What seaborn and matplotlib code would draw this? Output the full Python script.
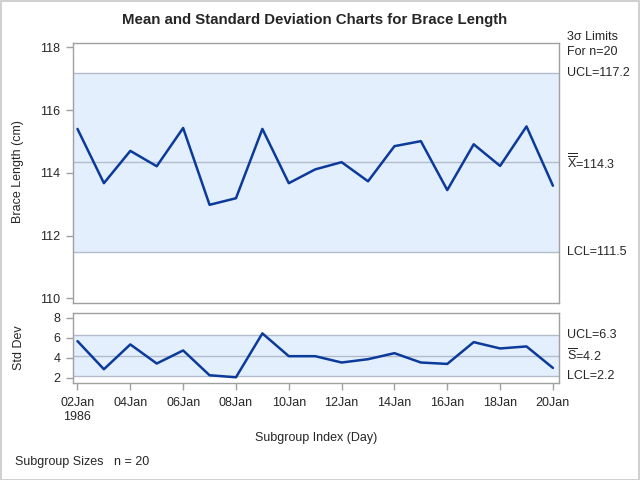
import matplotlib
matplotlib.use("Agg")
import matplotlib.pyplot as plt
import seaborn as sns
import pandas as pd
from matplotlib.patches import Rectangle

# ---- data ----
days = list(range(2, 21))
tick_days = [2, 4, 6, 8, 10, 12, 14, 16, 18, 20]
tick_labels = ["02Jan\n1986", "04Jan", "06Jan", "08Jan", "10Jan", "12Jan",
               "14Jan", "16Jan", "18Jan", "20Jan"]
means = [115.40, 113.67, 114.70, 114.21, 115.43, 112.98, 113.19, 115.40, 113.67,
         114.11, 114.34, 113.73, 114.85, 115.01, 113.45, 114.91, 114.22, 115.48, 113.59]
stds = [5.67, 2.87, 5.34, 3.44, 4.74, 2.27, 2.07, 6.44, 4.17,
        4.17, 3.54, 3.87, 4.47, 3.54, 3.40, 5.57, 4.94, 5.14, 3.00]
xbar_limits = {"LCL": 111.48, "CL": 114.34, "UCL": 117.18}
s_limits = {"LCL": 2.15, "CL": 4.18, "UCL": 6.24}
xbar_labels = ["LCL=111.5", r"$\overline{\overline{\mathrm{X}}}$=114.3", "UCL=117.2"]
s_labels = ["LCL=2.2", r"$\overline{\mathrm{S}}$=4.2", "UCL=6.3"]

df = pd.DataFrame({"day": days, "mean": means, "std": stds})

sns.set_theme(style="white")
plt.rcParams["font.family"] = ["Liberation Sans", "DejaVu Sans"]
plt.rcParams["mathtext.fontset"] = "custom"
plt.rcParams["mathtext.rm"] = "Liberation Sans"
plt.rcParams["mathtext.it"] = "Liberation Sans"

fig = plt.figure(figsize=(6.4, 4.8), dpi=100)
fig.patches.append(Rectangle((0.001, 0.001), 0.997, 0.997, transform=fig.transFigure,
                             fill=False, edgecolor="#c8c8c8", lw=1.2))

W, H = 640, 480
def ax_rect(l, t, r, b):
    return [l / W, 1 - b / H, (r - l) / W, (b - t) / H]

ax1 = fig.add_axes(ax_rect(73, 43.3, 559, 303.3))
ax2 = fig.add_axes(ax_rect(73, 313.3, 559, 383.3))

line_c = "#0b3a9a"
fill_c = "#e3effd"
lim_c = "#b4bccb"
frame_c = "#a0a0a0"
fs = 9.0

xlim = (1.83, 20.23)

for ax, col, lims, labels, ylim, yticks in [
        (ax1, "mean", xbar_limits, xbar_labels, (109.84, 118.13), [110, 112, 114, 116, 118]),
        (ax2, "std", s_limits, s_labels, (1.47, 8.44), [2, 4, 6, 8])]:
    ax.axhspan(lims["LCL"], lims["UCL"], color=fill_c, lw=0, zorder=0)
    for k in ["LCL", "CL", "UCL"]:
        ax.axhline(lims[k], color=lim_c, lw=1.0, zorder=1)
    sns.lineplot(data=df, x="day", y=col, ax=ax, color=line_c, lw=1.8, zorder=3)
    ax.set_xlim(*xlim)
    ax.set_ylim(*ylim)
    ax.set_yticks(yticks)
    ax.set_yticklabels([str(v) for v in yticks], fontsize=fs)
    for s in ax.spines.values():
        s.set_color(frame_c)
        s.set_linewidth(1.0)
    ax.tick_params(axis="y", left=True, length=5, color=frame_c, width=1, pad=4)
    ax.set_xlabel("")
    ax.set_ylabel("")
    for k, lab in zip(["LCL", "CL", "UCL"], labels):
        ax.text(1.0165, lims[k], lab, transform=ax.get_yaxis_transform(),
                va="center", ha="left", fontsize=fs)

ax1.set_xticks([])
ax2.set_xticks(tick_days)
ax2.set_xticklabels(tick_labels, fontsize=fs, linespacing=1.25)
ax2.tick_params(axis="x", bottom=True, length=5, color=frame_c, width=1, pad=5)

# texts
fig.text(315 / W, 1 - 20 / H, "Mean and Standard Deviation Charts for Brace Length",
         ha="center", va="center", fontsize=10.8, fontweight="bold")
fig.text(567 / W, 1 - 37 / H, "3σ Limits", ha="left", va="center", fontsize=fs)
fig.text(567 / W, 1 - 52 / H, "For n=20", ha="left", va="center", fontsize=fs)
fig.text(18 / W, 1 - 172 / H, "Brace Length (cm)", rotation=90, ha="center", va="center", fontsize=fs)
fig.text(19 / W, 1 - 348 / H, "Std Dev", rotation=90, ha="center", va="center", fontsize=fs)
fig.text(316 / W, 1 - 438 / H, "Subgroup Index (Day)", ha="center", va="center", fontsize=fs)
fig.text(15 / W, 1 - 462 / H, "Subgroup Sizes   n = 20", ha="left", va="center", fontsize=fs)

fig.savefig("out.png", dpi=100)
